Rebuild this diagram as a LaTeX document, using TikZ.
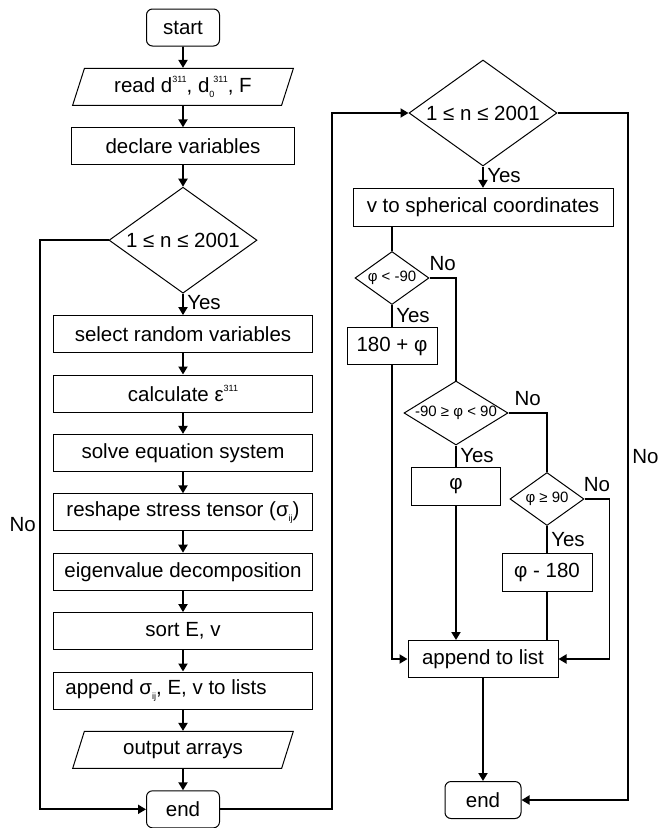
\documentclass[tikz,border=0pt]{standalone}
\usepackage{fontspec}
\setmainfont{Liberation Sans}
\usepackage{tikz}
\usetikzlibrary{arrows.meta,positioning,shapes.geometric}
\newcommand{\upidx}[1]{\raisebox{0.85ex}{\fontsize{9}{9}\selectfont #1}}
\newcommand{\lowidx}[1]{\raisebox{-0.45ex}{\fontsize{9}{9}\selectfont #1}}
\newcommand{\nowidth}[1]{\makebox[0pt]{#1}}
\tikzset{
    flowbase/.style={
        draw=black,
        line width=1pt,
        inner sep=0pt,
        align=center
    },
    termnode/.style={flowbase, rectangle, rounded corners=6pt, minimum width=73pt, minimum height=37pt},
    ionode/.style={flowbase, trapezium, trapezium left angle=68, trapezium right angle=112,
        trapezium stretches=true, minimum width=221pt, minimum height=37pt},
    procnode/.style={flowbase, rectangle, minimum width=259pt, minimum height=37pt},
    smallproc/.style={flowbase, rectangle, minimum width=90pt, minimum height=37pt},
    decnode/.style={flowbase, diamond, aspect=1.4, minimum width=148pt, minimum height=106pt},
    smalldec/.style={flowbase, diamond, aspect=1.4, minimum width=74pt, minimum height=53pt,
        font=\fontsize{15}{18}\selectfont},
    line/.style={-{Triangle[length=8pt,width=9pt]}, line width=1.9pt},
    plain/.style={line width=1.9pt},
}

\begin{document}
\begin{tikzpicture}[x=1pt, y=-1pt, font=\fontsize{20.5}{24}\selectfont, node distance=21.4pt]
    \useasboundingbox (0,0) rectangle (658,828);

    % Main loop
    \node[termnode] at (183,27.5) (start) {start};
    \node[ionode, below=of start] (read) {read d\upidx{311}, d\lowidx{0}\kern-1pt\upidx{311}, F};
    \node[procnode, below=of read, minimum width=223pt] (declare) {declare variables};
    \node[decnode, below=of declare] (cond1) {1 ≤ n ≤ 2001};
    \node[procnode, below=of cond1] (select) {select random variables};
    \node[procnode, below=of select] (calc) {calculate ε\upidx{311}};
    \node[procnode, below=of calc] (solve) {solve equation system};
    \node[procnode, below=of solve] (reshape) {reshape stress tensor (σ\lowidx{ij})};
    \node[procnode, below=of reshape] (eigen) {eigenvalue decomposition};
    \node[procnode, below=of eigen] (sort) {sort E, v};
    \node[procnode, below=of sort] (append) {append σ\lowidx{ij}, E, v to lists\hspace{34pt}};
    \node[ionode, below=of append] (output) {output arrays};
    \node[termnode, below=of output] (end1) {end};

    % Angle loop
    \node[decnode] at (483,113) (cond2) {1 ≤ n ≤ 2001};
    \node[procnode, below=of cond2, minimum width=260pt, minimum height=38pt] (spher) {v to spherical coordinates};
    \node[smalldec] at (392,278) (dec1) {\nowidth{φ < -90}};
    \node[smallproc] at (392,346) (add180) {180 + φ};
    \node[smalldec, aspect=1.6, minimum width=104pt, minimum height=64pt] at (456,413) (dec2) {\nowidth{-90 ≥ φ < 90}};
    \node[smallproc, minimum width=89pt, minimum height=38pt] at (456,486) (keepphi) {φ};
    \node[smalldec] at (547,499) (dec3) {\nowidth{φ ≥ 90}};
    \node[smallproc, minimum height=38pt] at (547,572) (sub180) {φ - 180};
    \node[flowbase, rectangle, minimum width=150pt, minimum height=37pt] at (483,659) (append2) {append to list};
    \node[termnode, minimum width=76pt] at (483,800) (end2) {end};

    \coordinate (loopL) at (40,0);
    \coordinate (loopM) at (332,113);
    \coordinate (loopR) at (628,113);

    % Left column edges
    \draw[line] (start) -- (read);
    \draw[line] (read) -- (declare);
    \draw[line] (declare) -- (cond1);
    \draw[line] (cond1) -- node[right, pos=0.4] {Yes} (select);
    \draw[line] (select) -- (calc);
    \draw[line] (calc) -- (solve);
    \draw[line] (solve) -- (reshape);
    \draw[line] (reshape) -- (eigen);
    \draw[line] (eigen) -- (sort);
    \draw[line] (sort) -- (append);
    \draw[line] (append) -- (output);
    \draw[line] (output) -- (end1);
    \draw[line] (cond1.west) -| node[pos=0.75, left] {No} (loopL |- end1.west) -- (end1.west);
    \draw[line] (end1.east) -| (loopM) -- (cond2.west);

    % Right column edges
    \draw[line] (cond2) -- node[right, pos=0.4] {Yes} (spher);
    \draw[line] (cond2.east) -- (loopR) |- node[pos=0.25, right] {No} (end2.east);
    \draw[plain] (dec1.north |- spher.south) -- (dec1.north);
    \draw[plain] (dec1) -- node[right] {Yes} (add180);
    \draw[plain] (dec1.east) -| node[pos=0.25, above=3pt] {No} (dec2.north);
    \draw[line] (add180.south) |- (append2.west);
    \draw[plain] (dec2) -- node[right] {Yes} (keepphi);
    \draw[plain] (dec2.east) -| node[pos=0.25, above=3pt] {No} (dec3.north);
    \draw[line] (keepphi.south) -- (keepphi.south |- append2.north);
    \draw[plain] (dec3) -- node[right] {Yes} (sub180);
    \draw[plain] (sub180.south) -- (sub180.south |- append2.north);
    \draw[line] (dec3.east) -- node[above=3pt] {No} ++(25pt,0) |- (append2.east);
    \draw[line] (append2) -- (end2);
\end{tikzpicture}
\end{document}
